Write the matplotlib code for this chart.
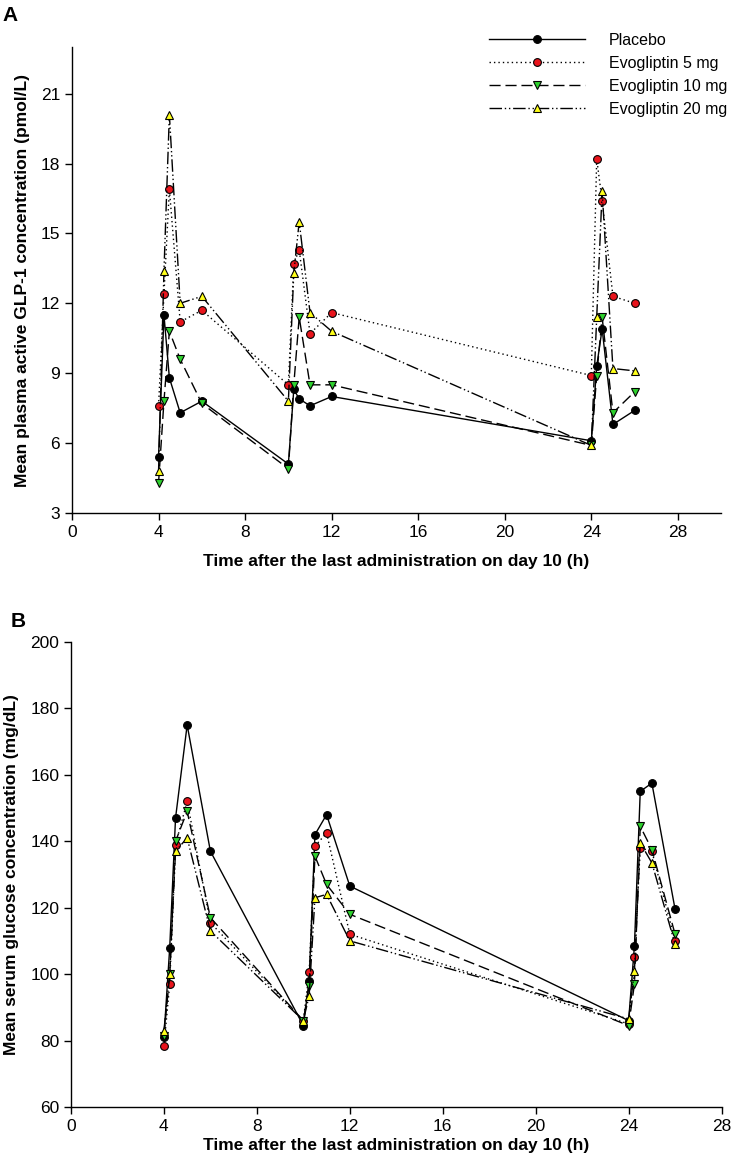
import matplotlib
matplotlib.use("Agg")
import matplotlib.pyplot as plt

plt.rcParams['font.family'] = ['Liberation Sans', 'DejaVu Sans']

# sampling times (h)
times = [4, 4.25, 4.5, 5, 6, 10, 10.25, 10.5, 11, 12, 24, 24.25, 24.5, 25, 26]

# panel A: active GLP-1 (pmol/L)
glp_placebo = [5.4, 11.5, 8.8, 7.3, 7.8, 5.1, 8.3, 7.9, 7.6, 8.0, 6.1, 9.3, 10.9, 6.8, 7.4]
glp_5mg = [7.6, 12.4, 16.9, 11.2, 11.7, 8.5, 13.7, 14.3, 10.7, 11.6, 8.9, 18.2, 16.4, 12.3, 12.0]
glp_10mg = [4.3, 7.8, 10.8, 9.6, 7.7, 4.9, 8.5, 11.4, 8.5, 8.5, 5.9, 8.9, 11.4, 7.3, 8.2]
glp_20mg = [4.8, 13.4, 20.1, 12.0, 12.3, 7.8, 13.3, 15.5, 11.6, 10.8, 5.9, 11.4, 16.8, 9.2, 9.1]

# panel B: serum glucose (mg/dL)
glu_placebo = [81, 108, 147, 175, 137, 84.5, 98, 142, 148, 126.5, 86, 108.5, 155, 157.5, 119.5]
glu_5mg = [78.3, 97, 139, 152, 115.5, 86, 100.5, 138.5, 142.5, 112, 85, 105, 138, 137, 110]
glu_10mg = [81.5, 100, 140, 149, 117, 86, 96.5, 135.5, 127, 118, 84.5, 97, 144.5, 137.5, 112]
glu_20mg = [83, 100, 137, 141, 113, 86, 93.5, 123, 124, 110, 86.5, 101, 139.5, 133.5, 109]

labels = ['Placebo', 'Evogliptin 5 mg', 'Evogliptin 10 mg', 'Evogliptin 20 mg']
styles = [
    dict(color='black', linestyle='-', marker='o', mfc='black'),
    dict(color='black', linestyle=(0, (1, 2.2)), marker='o', mfc='#e8141c'),
    dict(color='black', linestyle=(0, (8, 3.5)), marker='v', mfc='#2ed12e'),
    dict(color='black', linestyle=(0, (9, 2, 1, 2, 1, 2)), marker='^', mfc='#ffff1a'),
]

fig = plt.figure(figsize=(7.31, 11.64), dpi=100)
axA = fig.add_axes([0.0985, 0.5593, 0.888, 0.4003])
axB = fig.add_axes([0.0971, 0.0490, 0.890, 0.3995])


def draw(ax, series):
    for ys, lab, st in zip(series, labels, styles):
        ax.plot(times, ys, label=lab, linewidth=1.0, markersize=5.6,
                markeredgecolor='black', markeredgewidth=0.8, **st)
    for side in ['top', 'right']:
        ax.spines[side].set_visible(False)
    for side in ['left', 'bottom']:
        ax.spines[side].set_linewidth(1.0)
    ax.tick_params(direction='out', length=5, width=1, labelsize=12.5)


draw(axA, [glp_placebo, glp_5mg, glp_10mg, glp_20mg])
axA.set_xlim(0, 30)
axA.set_ylim(3, 23)
axA.set_xticks(range(0, 29, 4))
axA.set_yticks(range(3, 22, 3))
axA.set_xlabel('Time after the last administration on day 10 (h)', fontsize=12.5,
               fontweight='bold', labelpad=10)
axA.set_ylabel('Mean plasma active GLP-1 concentration (pmol/L)', fontsize=12.5,
               fontweight='bold', labelpad=8)
axA.legend(loc='upper left', bbox_to_anchor=(0.6425, 1.030), frameon=False,
           fontsize=11.5, handlelength=6.0, handletextpad=1.5, labelspacing=0.5,
           borderpad=0, borderaxespad=0)

draw(axB, [glu_placebo, glu_5mg, glu_10mg, glu_20mg])
axB.set_xlim(0, 28)
axB.set_ylim(60, 200)
axB.set_xticks(range(0, 29, 4))
axB.set_yticks(range(60, 201, 20))
axB.set_xlabel('Time after the last administration on day 10 (h)', fontsize=12.5,
               fontweight='bold', labelpad=3)
axB.set_ylabel('Mean serum glucose concentration (mg/dL)', fontsize=12.5,
               fontweight='bold', labelpad=8)

fig.text(0.004, 0.995, 'A', fontsize=15, fontweight='bold', va='top', ha='left')
fig.text(0.014, 0.474, 'B', fontsize=15, fontweight='bold', va='top', ha='left')

fig.savefig('out.png', dpi=100)
